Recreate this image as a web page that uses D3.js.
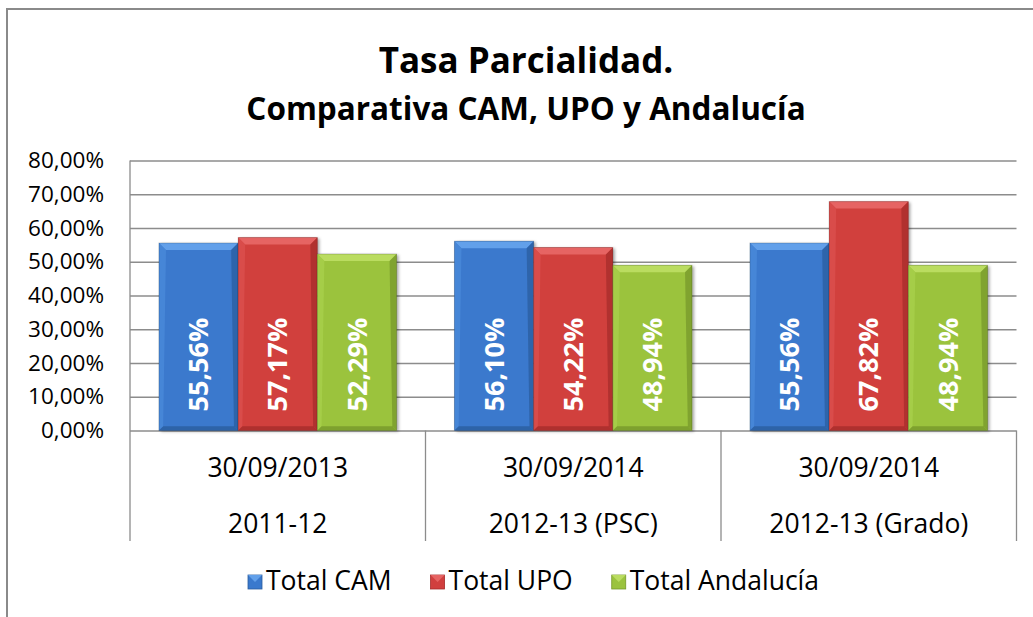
<!DOCTYPE html>
<html>
<head>
<meta charset="utf-8">
<script src="https://cdn.jsdelivr.net/npm/d3@7"></script>
<style>
  body { margin: 0; background: #fff; }
  svg { display: block; font-family: "Open Sans", "Noto Sans", sans-serif; }
</style>
</head>
<body>
<svg id="chart" width="1033" height="617"></svg>
<script>
// data
var categories = ["2011-12", "2012-13 (PSC)", "2012-13 (Grado)"];
var dates = ["30/09/2013", "30/09/2014", "30/09/2014"];
var seriesNames = ["Total CAM", "Total UPO", "Total Andalucía"];
var totalCAM = [55.56, 56.10, 55.56];
var totalUPO = [57.17, 54.22, 67.82];
var totalAndalucia = [52.29, 48.94, 48.94];
var yTicks = [0, 10, 20, 30, 40, 50, 60, 70, 80];

var seriesValues = [totalCAM, totalUPO, totalAndalucia];
var palette = [
  {face: "#3a79cd", light: "#62a0ea", dark: "#2b5e9f", side: "#4a89da"},
  {face: "#d13f3e", light: "#e66463", dark: "#a62c2b", side: "#db4f4e"},
  {face: "#9bc33e", light: "#badc60", dark: "#77982b", side: "#a8cf4b"}
];

var fmt = function(v) { return d3.format(".2f")(v).replace(".", ",") + "%"; };

var svg = d3.select("#chart");
var plotL = 130, plotR = 1016.5, plotT = 160.5, plotB = 430.5, catBottom = 541;

// outer frame (cut by the picture on right and bottom)
svg.append("path")
  .attr("d", "M7,640 L7,9 L1040,9")
  .attr("fill", "none").attr("stroke", "#8a8a8a").attr("stroke-width", 2);

var x0 = d3.scaleBand().domain(categories).range([plotL, plotR]).padding(0);
var x1 = d3.scaleBand().domain(seriesNames)
  .range([x0.bandwidth() * 0.098, x0.bandwidth() * 0.902]).padding(0);
var y = d3.scaleLinear().domain([0, 80]).range([plotB, plotT]);

// titles
svg.append("text").attr("x", 526).attr("y", 73).attr("text-anchor", "middle")
  .style("font-weight", "bold").style("font-size", "35px").text("Tasa Parcialidad.");
svg.append("text").attr("x", 526).attr("y", 120).attr("text-anchor", "middle")
  .style("font-weight", "bold").style("font-size", "31.5px").text("Comparativa CAM, UPO y Andalucía");

// y axis with gridlines
var yAxis = svg.append("g").attr("transform", "translate(" + plotL + ",0)")
  .call(d3.axisLeft(y).tickValues(yTicks).tickSize(-(plotR - plotL)).tickPadding(26).tickFormat(fmt));
yAxis.select(".domain").remove();
yAxis.selectAll(".tick line").attr("stroke", "#8c8c8c").attr("stroke-width", 1.3);
yAxis.selectAll(".tick text").attr("fill", "#000").style("font-size", "22.5px")
  .style("font-family", "'Open Sans', sans-serif");

// axis line and category separators
svg.append("line").attr("x1", plotL).attr("x2", plotL).attr("y1", plotT).attr("y2", catBottom)
  .attr("stroke", "#8c8c8c").attr("stroke-width", 1.3);
var seps = categories.map(function(c) { return x0(c) + x0.bandwidth(); });
svg.selectAll(".sep").data(seps).enter().append("line")
  .attr("x1", function(d) { return d; }).attr("x2", function(d) { return d; })
  .attr("y1", plotB).attr("y2", catBottom)
  .attr("stroke", "#8c8c8c").attr("stroke-width", 1.3);

// category labels (two levels)
svg.selectAll(".date").data(categories).enter().append("text")
  .attr("x", function(d) { return x0(d) + x0.bandwidth() / 2; })
  .attr("y", 477).attr("text-anchor", "middle").style("font-size", "26.5px")
  .text(function(d, i) { return dates[i]; });
svg.selectAll(".cat").data(categories).enter().append("text")
  .attr("x", function(d) { return x0(d) + x0.bandwidth() / 2; })
  .attr("y", 533).attr("text-anchor", "middle").style("font-size", "26.5px")
  .text(function(d) { return d; });

// shadow filter
var defs = svg.append("defs");
var f = defs.append("filter").attr("id", "shadow").attr("x", "-10%").attr("y", "-10%")
  .attr("width", "130%").attr("height", "120%");
f.append("feDropShadow").attr("dx", 2).attr("dy", 1).attr("stdDeviation", 1.5)
  .attr("flood-color", "#000").attr("flood-opacity", 0.35);

// bars
var bars = [];
categories.forEach(function(c, ci) {
  seriesNames.forEach(function(s, si) {
    bars.push({cat: c, series: s, si: si, value: seriesValues[si][ci]});
  });
});

var b = 7;
var g = svg.selectAll(".bar").data(bars).enter().append("g")
  .attr("class", "bar")
  .attr("transform", function(d) { return "translate(" + (x0(d.cat) + x1(d.series)) + "," + y(d.value) + ")"; });

g.each(function(d) {
  var w = x1.bandwidth(), h = y(0) - y(d.value), col = palette[d.si];
  var el = d3.select(this);
  el.append("rect").attr("width", w).attr("height", h).attr("fill", col.face)
    .attr("filter", "url(#shadow)");
  el.append("polygon").attr("fill", col.light)
    .attr("points", [[0, 0], [w, 0], [w - b, b], [b, b]].join(" "));
  el.append("polygon").attr("fill", col.side).attr("opacity", 0.8)
    .attr("points", [[0, 0], [b, b], [b * 0.6, h - b * 0.6], [0, h]].join(" "));
  el.append("polygon").attr("fill", col.dark).attr("opacity", 0.75)
    .attr("points", [[w, 0], [w, h], [w - b * 0.6, h - b * 0.6], [w - b, b]].join(" "));
  el.append("polygon").attr("fill", col.dark).attr("opacity", 0.8)
    .attr("points", [[0, h], [w, h], [w - b * 0.6, h - b * 0.6], [b * 0.6, h - b * 0.6]].join(" "));
  el.append("rect").attr("width", w).attr("height", h).attr("fill", "none")
    .attr("stroke", "rgba(0,0,0,0.18)").attr("stroke-width", 1);
});

// data labels, inside base, rotated
svg.selectAll(".lbl").data(bars).enter().append("text")
  .attr("transform", function(d) {
    var cx = x0(d.cat) + x1(d.series) + x1.bandwidth() / 2;
    return "translate(" + cx + "," + (y(0) - 19) + ") rotate(-90)";
  })
  .attr("dy", "0.36em")
  .attr("fill", "#fff").style("font-weight", "bold").style("font-size", "27px")
  .text(function(d) { return fmt(d.value); });

// legend
var legend = svg.append("g");
var lx = 248;
seriesNames.forEach(function(s, i) {
  var col = palette[i];
  var item = legend.append("g").attr("transform", "translate(" + lx + ",575)");
  item.append("rect").attr("width", 14).attr("height", 14).attr("fill", col.face)
    .attr("stroke", col.dark).attr("stroke-width", 0.8);
  item.append("polygon").attr("fill", col.light)
    .attr("points", "0,0 14,0 7,7");
  var t = item.append("text").attr("x", 18).attr("y", 15).style("font-size", "26.5px").text(s);
  lx += 18 + t.node().getComputedTextLength() + 39;
});
</script>
</body>
</html>
